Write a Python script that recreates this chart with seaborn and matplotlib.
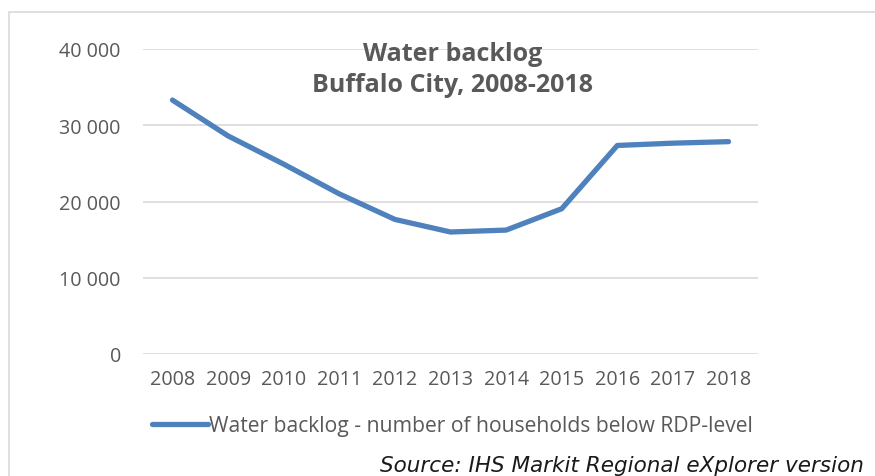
import numpy as np
import pandas as pd
import matplotlib
matplotlib.use("Agg")
import matplotlib.pyplot as plt
import seaborn as sns
from matplotlib.patches import Rectangle

years = ["2008", "2009", "2010", "2011", "2012", "2013", "2014", "2015", "2016", "2017", "2018"]
backlog = [33300, 28600, 24900, 21000, 17650, 16000, 16250, 19050, 27350, 27650, 27850]
series_name = "Water backlog - number of households below RDP-level"
title_text = "Water backlog\nBuffalo City, 2008-2018"
source_text = "Source: IHS Markit Regional eXplorer version"

grey_text = "#595959"
line_color = "#4F81BD"
grid_color = "#D9D9D9"

sns.set_theme(style="white")
plt.rcParams["font.family"] = ["Open Sans", "DejaVu Sans"]

df = pd.DataFrame({"x": np.arange(len(years)), "value": backlog, "series": series_name})

fig = plt.figure(figsize=(8.75, 4.77), dpi=100)
ax = fig.add_axes([143 / 875, 1 - 355 / 477, 615 / 875, 305 / 477])

sns.lineplot(data=df, x="x", y="value", hue="series", palette=[line_color],
             linewidth=3.8, ax=ax, legend=True, solid_capstyle="round",
             solid_joinstyle="round")

ax.set_ylim(0, 40000)
ax.set_xlim(-0.53, 10.53)
ax.set_yticks([0, 10000, 20000, 30000, 40000])
ax.set_yticklabels(["0", "10 000", "20 000", "30 000", "40 000"])
ax.set_xticks(np.arange(len(years)))
ax.set_xticklabels(years)
ax.set_xlabel("")
ax.set_ylabel("")
ax.yaxis.grid(True, color=grid_color, linewidth=1.2)
ax.xaxis.grid(False)
ax.set_axisbelow(True)
for s in ax.spines.values():
    s.set_visible(False)
ax.tick_params(axis="y", length=0, pad=16, labelsize=14.2, labelcolor=grey_text)
ax.tick_params(axis="x", length=0, pad=11, labelsize=14.2, labelcolor=grey_text)

fig.text(453 / 875, 1 - 70 / 477, title_text, ha="center", va="center",
         fontsize=18, fontweight="bold", color=grey_text, linespacing=1.3)

leg = ax.legend(loc="center", bbox_to_anchor=(452 / 875, 1 - 427 / 477),
                bbox_transform=fig.transFigure, frameon=False, fontsize=15.2,
                handlelength=2.65, handletextpad=0.05, borderpad=0)
for t in leg.get_texts():
    t.set_color(grey_text)

fig.text(380 / 875, 1 - 466 / 477, source_text, ha="left", va="center",
         fontsize=15.5, style="italic", color="#1a1a1a",
         family=["DejaVu Sans"])

fig.patches.append(Rectangle((9 / 875, -0.1), 1.2, 1 - 13 / 477 + 0.1,
                             transform=fig.transFigure, fill=False,
                             edgecolor=grid_color, linewidth=1.2))

fig.savefig("out.png", dpi=100)
